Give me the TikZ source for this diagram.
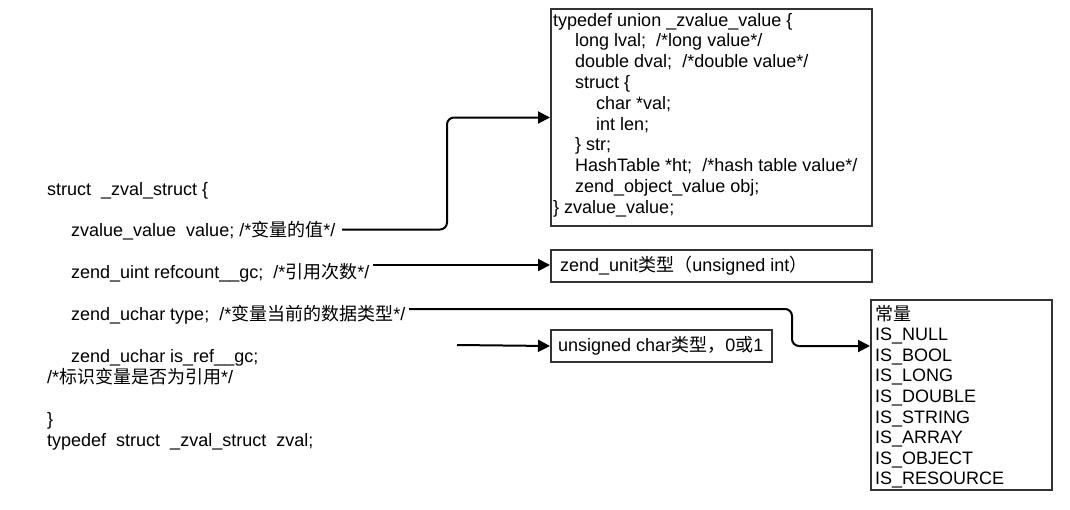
\documentclass[tikz,border=0pt]{standalone}
\usepackage{fontspec}
\setmainfont{Liberation Sans}
\newfontfamily\cjk{Noto Sans CJK SC}
\usetikzlibrary{arrows.meta}
\begin{document}
\begin{tikzpicture}[x=1pt,y=-1pt,
  txt/.style={anchor=base west, inner sep=0pt, font=\fontsize{18}{21}\selectfont},
  box/.style={draw=black!80, line width=2pt, inner sep=0pt, anchor=north west},
  conn/.style={draw=black, line width=2pt, rounded corners=7pt,
    -{Triangle[length=12pt,width=12pt]}}]
\fill[white] (0,0) rectangle (1070,509);
\useasboundingbox (0,0) rectangle (1070,509);

% boxes
\node[box, minimum width=321pt, minimum height=217pt] (union) at (550,8) {};
\node[box, minimum width=321pt, minimum height=32pt] (unit) at (550,249) {};
\node[box, minimum width=221pt, minimum height=32pt] (uchar) at (550,329) {};
\node[box, minimum width=181pt, minimum height=190pt] (consts) at (870,299) {};

% left struct text
\node[txt] (l1) at (47,195) {struct~ \_zval\_struct \{};
\node[txt] (l2) at (71,236) {zvalue\_value~ value; /*{\cjk 变量的值}*/};
\node[txt] (l3) at (71,278) {zend\_uint refcount\_\_gc;~ /*{\cjk 引用次数}*/};
\node[txt] (l4) at (71,320) {zend\_uchar type;~ /*{\cjk 变量当前的数据类型}*/};
\node[txt] (l5) at (71,362) {zend\_uchar is\_ref\_\_gc;};
\node[txt] (l6) at (47,383) {/*{\cjk 标识变量是否为引用}*/};
\node[txt] (l7) at (47,425) {\}};
\node[txt] (l8) at (47,446) {typedef~ struct~ \_zval\_struct~ zval;};

% union text
\node[txt] (u1) at (553,26) {typedef union \_zvalue\_value \{};
\node[txt] (u2) at (575,46.8) {long lval;~ /*long value*/};
\node[txt] (u3) at (575,67.6) {double dval;~ /*double value*/};
\node[txt] (u4) at (575,88.4) {struct \{};
\node[txt] (u5) at (596,109.2) {char *val;};
\node[txt] (u6) at (596,130) {int len;};
\node[txt] (u7) at (575,150.8) {\} str;};
\node[txt] (u8) at (575,171.6) {HashTable *ht;~ /*hash table value*/};
\node[txt] (u9) at (575,192.4) {zend\_object\_value obj;};
\node[txt] (u10) at (553,213.2) {\} zvalue\_value;};

% small boxes text
\node[txt] (t1) at (560,271) {zend\_unit{\cjk 类型（}unsigned int{\cjk ）}};
\node[txt] (t2) at (558,351) {unsigned char{\cjk 类型，}0{\cjk 或}1};

% constants
\node[txt] (c0) at (875,320) {{\cjk 常量}};
\node[txt] (c1) at (875,340.6) {IS\_NULL};
\node[txt] (c2) at (875,361.2) {IS\_BOOL};
\node[txt] (c3) at (875,381.8) {IS\_LONG};
\node[txt] (c4) at (875,402.4) {IS\_DOUBLE};
\node[txt] (c5) at (875,423) {IS\_STRING};
\node[txt] (c6) at (875,443.6) {IS\_ARRAY};
\node[txt] (c7) at (875,464.2) {IS\_OBJECT};
\node[txt] (c8) at (875,484.8) {IS\_RESOURCE};

% connector anchors
\coordinate (a1) at (342,229.5);
\coordinate (k1) at (447,0);
\coordinate (a2) at (373,265);
\coordinate (a3) at (409,309);
\coordinate (k3) at (792,0);
\coordinate (a4) at (457,345);

\draw[conn] (a1) -- (a1 -| k1) -- (k1 |- union.west) -- (union.west);
\draw[conn] (a2) -- (a2 -| unit.west);
\draw[conn] (a3) -- (a3 -| k3) -- (k3 |- uchar.west) -- (consts.west |- uchar.west);
\draw[conn] (a4) -- (uchar.west);
\end{tikzpicture}
\end{document}
